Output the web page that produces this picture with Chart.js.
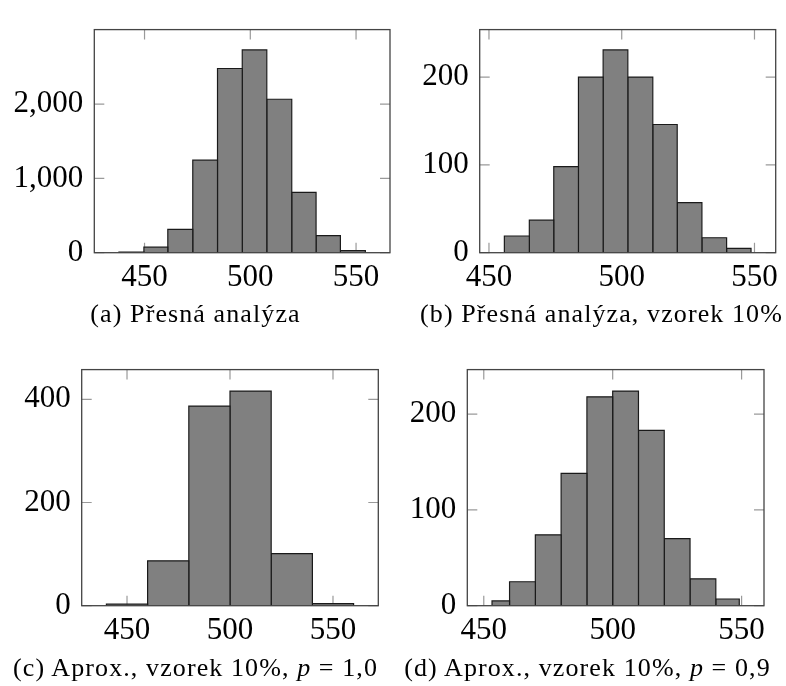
<!DOCTYPE html>
<html>
<head>
<meta charset="utf-8">
<script src="https://cdn.jsdelivr.net/npm/chart.js@4/dist/chart.umd.min.js"></script>
<style>
    body { margin: 0; background: #fff; }
    #fig { position: relative; width: 786px; height: 686px; overflow: hidden; }
    .panel { position: absolute; width: 393px; height: 320px; }
    .cap {
        position: absolute; width: 393px; text-align: center;
        font: 26px "Liberation Serif", serif; line-height: 30px;
        letter-spacing: 1.1px;
        white-space: nowrap; color: #000;
    }
</style>
</head>
<body>
<div id="fig">
    <div class="panel" style="left:0;top:0"><canvas id="histA"></canvas></div>
    <div class="panel" style="left:393px;top:0"><canvas id="histB"></canvas></div>
    <div class="panel" style="left:0;top:340px"><canvas id="histC"></canvas></div>
    <div class="panel" style="left:393px;top:340px"><canvas id="histD"></canvas></div>
    <div class="cap" style="left:-1px;top:299px">(a) Přesná analýza</div>
    <div class="cap" style="left:405px;top:299px">(b) Přesná analýza, vzorek 10%</div>
    <div class="cap" style="left:-1px;top:653px">(c) Aprox., vzorek 10%, <i>p</i> = 1,0</div>
    <div class="cap" style="left:391px;top:653px">(d) Aprox., vzorek 10%, <i>p</i> = 0,9</div>
</div>
<script>
// osa x je u vsech stejna
const xTicks = [450, 500, 550];

// (a) presna analyza
const edgesA = [437.9, 449.7, 461.0, 472.8, 484.5, 496.2, 507.8, 519.6, 531.1, 542.6, 554.4];
const countsA = [8, 75, 314, 1246, 2480, 2731, 2066, 811, 230, 29];
const yTicksA = [0, 1000, 2000];

// (b) presna analyza, vzorek 10%
const edgesB = [455.8, 465.2, 474.4, 483.7, 493.0, 502.3, 511.7, 520.9, 530.2, 539.5, 548.7];
const countsB = [19, 37, 98, 200, 231, 200, 146, 57, 17, 5];
const yTicksB = [0, 100, 200];

// (c) aprox., p = 1,0
const edgesC = [440, 460, 480, 500, 520, 540, 560];
const countsC = [3, 87, 387, 416, 101, 4];
const yTicksC = [0, 200, 400];

// (d) aprox., p = 0,9
const edgesD = [453.2, 460, 470, 480, 490, 500, 510, 520, 530, 540, 549.1];
const countsD = [5, 25, 74, 138, 218, 224, 183, 70, 28, 7];
const yTicksD = [0, 100, 200];

const FONT = { family: "'Liberation Serif', serif", size: 31 };
const PANEL_W = 393, PANEL_H = 320, X_AXIS_H = 40;

// ramecek kolem grafu + carky dovnitr (jako pgfplots)
const ramecek = {
    id: "ramecek",
    beforeDatasetsDraw(chart) {
        const { ctx, chartArea: a, scales: { x, y } } = chart;
        const len = 10;
        ctx.save();
        ctx.strokeStyle = "#9a9a9a";
        ctx.lineWidth = 1.2;
        ctx.beginPath();
        x.ticks.forEach(t => {
            const px = x.getPixelForValue(t.value);
            ctx.moveTo(px, a.bottom); ctx.lineTo(px, a.bottom - len);
            ctx.moveTo(px, a.top); ctx.lineTo(px, a.top + len);
        });
        y.ticks.forEach(t => {
            const py = y.getPixelForValue(t.value);
            ctx.moveTo(a.left, py); ctx.lineTo(a.left + len, py);
            ctx.moveTo(a.right, py); ctx.lineTo(a.right - len, py);
        });
        ctx.stroke();
        ctx.restore();
    },
    afterDatasetsDraw(chart) {
        const { ctx, chartArea: a } = chart;
        ctx.save();
        ctx.strokeStyle = "#444";
        ctx.lineWidth = 1.3;
        ctx.strokeRect(a.left, a.top, a.right - a.left, a.bottom - a.top);
        ctx.restore();
    }
};

function sloupce(edges, counts) {
    return counts.map((c, i) => ({
        data: [
            { x: edges[i], y: 0 },
            { x: edges[i], y: c },
            { x: edges[i + 1], y: c },
            { x: edges[i + 1], y: 0 }
        ],
        borderColor: "#1a1a1a",
        borderWidth: 1.2,
        backgroundColor: "#808080",
        fill: "origin",
        pointRadius: 0,
        tension: 0
    }));
}

function histogram(id, edges, counts, yTicks, plot) {
    const span = edges[edges.length - 1] - edges[0];
    const ctx = document.getElementById(id);
    new Chart(ctx, {
        type: "line",
        data: { datasets: sloupce(edges, counts) },
        options: {
            responsive: false,
            animation: false,
            layout: {
                padding: {
                    left: 0,
                    top: plot.t,
                    right: PANEL_W - plot.r,
                    bottom: PANEL_H - plot.b - X_AXIS_H
                }
            },
            plugins: { legend: { display: false }, tooltip: { enabled: false } },
            scales: {
                x: {
                    type: "linear",
                    min: edges[0] - 0.1 * span,
                    max: edges[edges.length - 1] + 0.1 * span,
                    afterBuildTicks: s => { s.ticks = xTicks.map(v => ({ value: v })); },
                    afterFit: s => { s.height = X_AXIS_H; },
                    grid: { display: false, drawTicks: false },
                    border: { display: false },
                    ticks: { font: FONT, color: "#000", padding: 7, maxRotation: 0 }
                },
                y: {
                    min: 0,
                    max: 1.1 * Math.max(...counts),
                    afterBuildTicks: s => { s.ticks = yTicks.map(v => ({ value: v })); },
                    afterFit: s => { s.width = plot.l; },
                    grid: { display: false, drawTicks: false },
                    border: { display: false },
                    ticks: {
                        font: FONT, color: "#000", padding: 11,
                        callback: v => v.toLocaleString("en-US")
                    }
                }
            }
        },
        plugins: [ramecek]
    });
}

document.querySelectorAll("canvas").forEach(c => {
    c.width = PANEL_W;
    c.height = PANEL_H;
});

histogram("histA", edgesA, countsA, yTicksA, { l: 94.3, t: 14, r: 390, b: 252.7 });
histogram("histB", edgesB, countsB, yTicksB, { l: 86.7, t: 14, r: 382.7, b: 252.7 });
histogram("histC", edgesC, countsC, yTicksC, { l: 81.7, t: 26.7, r: 378.3, b: 265.7 });
histogram("histD", edgesD, countsD, yTicksD, { l: 74.3, t: 26, r: 371, b: 265.7 });
</script>
</body>
</html>
